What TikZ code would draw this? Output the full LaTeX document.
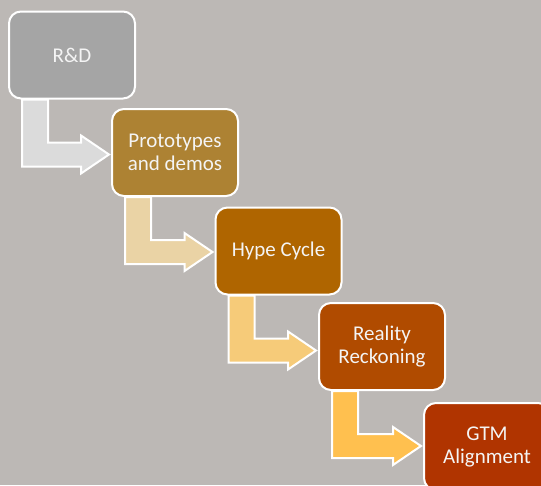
\documentclass[tikz,border=0pt]{standalone}
\usepackage{fontspec}
\setmainfont{Carlito}
\usetikzlibrary{calc}
\definecolor{bgc}{HTML}{BCB8B5}
\definecolor{c1}{HTML}{A5A5A5}
\definecolor{c2}{HTML}{AD8233}
\definecolor{c3}{HTML}{AF6500}
\definecolor{c4}{HTML}{B04B00}
\definecolor{c5}{HTML}{B03400}
\definecolor{a1}{HTML}{DBDBDB}
\definecolor{a2}{HTML}{EAD3A5}
\definecolor{a3}{HTML}{F6CB79}
\definecolor{a4}{HTML}{FFC04F}
\definecolor{txt}{HTML}{F4F4F4}
\tikzset{
  stepbox/.style={draw=white, line width=2pt, rounded corners=12pt,
    minimum width=126pt, minimum height=87pt, inner sep=2pt,
    text=txt, align=center, font=\fontsize{21}{23}\selectfont},
  arrowstyle/.style={draw=white, line width=2pt, line join=miter}
}
\newcommand\steparrow[3]{%
  \filldraw[arrowstyle, fill=#3] let \p1=(#1.south west), \p2=(#2.west) in
  (\x1+14pt,\y1) -- (\x1+14pt,\y1-67pt) -- (\x2-30pt,\y1-67pt) --
  (\x2-30pt,\y1-74pt) -- (\x2-2pt,\y1-55pt) -- (\x2-30pt,\y1-36pt) --
  (\x2-30pt,\y1-43pt) -- (\x1+40pt,\y1-43pt) -- (\x1+40pt,\y1) -- cycle;}
\begin{document}
\begin{tikzpicture}[x=1pt,y=-1pt]
\useasboundingbox (0,0) rectangle (541,485);
\clip (0,0) rectangle (541,485);
\fill[bgc] (0,0) rectangle (541,485);
\node[stepbox, fill=c1] (b1) at (72,55) {R\&D};
\node[stepbox, fill=c2] (b2) at (175,152.5) {Prototypes\\and demos};
\node[stepbox, fill=c3] (b3) at (278.5,251) {Hype Cycle};
\node[stepbox, fill=c4] (b4) at (382,346.5) {Reality\\Reckoning};
\node[stepbox, fill=c5] (b5) at (487,446.5) {GTM\\Alignment};
\steparrow{b1}{b2}{a1}
\steparrow{b2}{b3}{a2}
\steparrow{b3}{b4}{a3}
\steparrow{b4}{b5}{a4}
\end{tikzpicture}
\end{document}
